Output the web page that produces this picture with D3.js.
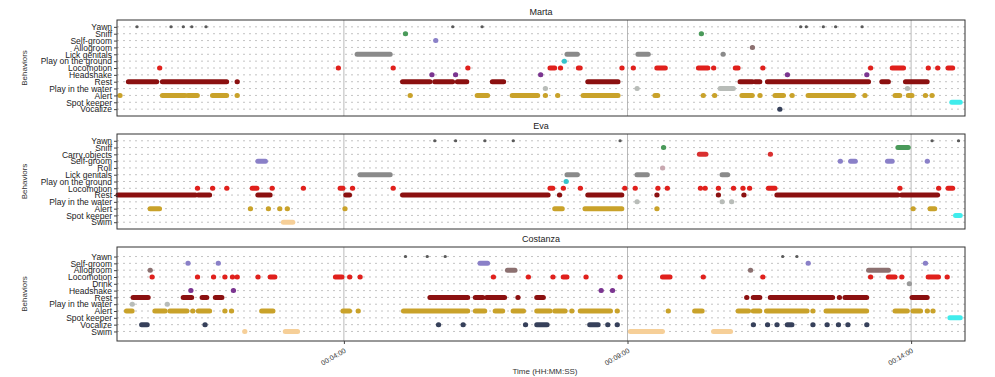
<!DOCTYPE html>
<html><head><meta charset="utf-8">
<script src="https://cdn.jsdelivr.net/npm/d3@7"></script>
<style>
body{margin:0;background:#fff;}
svg{display:block;font-family:"Liberation Sans",Arial,sans-serif;}
</style>
</head><body>
<svg id="c" width="995" height="377"></svg>
<script>
// ---------- DATA ----------
const timeDomain = [0, 897]; // seconds
const tickValues = [240, 540, 840];
const tickLabels = ["00:04:00", "00:09:00", "00:14:00"];
const xAxisTitle = "Time (HH:MM:SS)";
const yAxisTitle = "Behaviors";
const panelNames = ["Marta", "Eva", "Costanza"];

const martaBehaviors = ["Yawn","Sniff","Self-groom","Allogroom","Lick genitals","Play on the ground","Locomotion","Headshake","Rest","Play in the water","Alert","Spot keeper","Vocalize"];
const evaBehaviors = ["Yawn","Sniff","Carry objects","Self-groom","Roll","Lick genitals","Play on the ground","Locomotion","Rest","Play in the water","Alert","Spot keeper","Swim"];
const costanzaBehaviors = ["Yawn","Self-groom","Allogroom","Locomotion","Drink","Headshake","Rest","Play in the water","Alert","Spot keeper","Vocalize","Swim"];

// [behavior, start (s), end (s)]
const martaEvents = [
  ["Yawn",21,21],["Yawn",57,57],["Yawn",70,70],["Yawn",79,79],["Yawn",94,94],["Yawn",355,355],["Yawn",386,386],["Yawn",723,723],["Yawn",729,729],["Yawn",747,747],["Yawn",760,760],["Yawn",788,788],
  ["Sniff",305,305],["Sniff",618,618],
  ["Self-groom",337,337],
  ["Allogroom",672,672],
  ["Lick genitals",254,289],["Lick genitals",476,487],["Lick genitals",551,562],["Lick genitals",641,641],
  ["Play on the ground",473,473],
  ["Locomotion",45,45],["Locomotion",234,234],["Locomotion",292,292],["Locomotion",371,371],["Locomotion",458,463],["Locomotion",469,469],["Locomotion",488,490],["Locomotion",534,534],["Locomotion",546,546],["Locomotion",571,580],["Locomotion",615,625],["Locomotion",631,631],["Locomotion",654,657],["Locomotion",683,683],["Locomotion",797,797],["Locomotion",820,832],["Locomotion",858,858],["Locomotion",868,868],["Locomotion",879,884],
  ["Headshake",333,333],["Headshake",358,358],["Headshake",448,448],["Headshake",709,709],["Headshake",793,793],
  ["Rest",12,42],["Rest",48,116],["Rest",127,127],["Rest",302,331],["Rest",336,355],["Rest",360,370],["Rest",397,409],["Rest",498,530],["Rest",659,672],["Rest",675,680],["Rest",688,795],["Rest",809,816],["Rest",834,857],
  ["Play in the water",453,453],["Play in the water",550,550],["Play in the water",638,652],["Play in the water",836,836],
  ["Alert",3,3],["Alert",48,72],["Alert",75,85],["Alert",101,116],["Alert",127,127],["Alert",310,310],["Alert",381,392],["Alert",418,445],["Alert",453,453],["Alert",466,466],["Alert",493,530],["Alert",569,572],["Alert",620,620],["Alert",632,632],["Alert",661,672],["Alert",680,680],["Alert",696,705],["Alert",714,714],["Alert",731,779],["Alert",791,791],["Alert",823,828],["Alert",837,841],["Alert",855,855],["Alert",862,862],
  ["Spot keeper",883,892],
  ["Vocalize",701,701]
];

const evaEvents = [
  ["Yawn",336,336],["Yawn",358,358],["Yawn",389,389],["Yawn",419,419],["Yawn",532,532],["Yawn",862,862],["Yawn",890,890],
  ["Sniff",578,578],["Sniff",826,837],
  ["Carry objects",616,623],["Carry objects",691,691],
  ["Self-groom",149,157],["Self-groom",765,765],["Self-groom",776,781],["Self-groom",815,820],["Self-groom",857,857],
  ["Roll",577,577],
  ["Lick genitals",257,289],["Lick genitals",476,487],["Lick genitals",550,561],["Lick genitals",640,646],
  ["Play on the ground",475,475],
  ["Locomotion",85,85],["Locomotion",101,101],["Locomotion",116,116],["Locomotion",143,148],["Locomotion",164,164],["Locomotion",197,197],["Locomotion",236,239],["Locomotion",249,249],["Locomotion",292,292],["Locomotion",458,461],["Locomotion",472,472],["Locomotion",490,490],["Locomotion",537,537],["Locomotion",548,548],["Locomotion",572,572],["Locomotion",582,582],["Locomotion",617,617],["Locomotion",622,622],["Locomotion",636,636],["Locomotion",652,652],["Locomotion",662,662],["Locomotion",669,669],["Locomotion",689,696],["Locomotion",828,828],["Locomotion",869,869],["Locomotion",879,884],
  ["Rest",1,83],["Rest",86,98],["Rest",149,162],["Rest",242,246],["Rest",302,456],["Rest",468,468],["Rest",498,534],["Rest",571,571],["Rest",636,636],["Rest",663,663],["Rest",698,826],["Rest",830,868],
  ["Play in the water",550,550],["Play in the water",640,640],["Play in the water",650,650],
  ["Alert",35,45],["Alert",141,141],["Alert",160,160],["Alert",172,172],["Alert",180,180],["Alert",241,241],["Alert",463,471],["Alert",495,534],["Alert",571,571],["Alert",842,842],["Alert",860,865],
  ["Spot keeper",887,892],
  ["Swim",176,186]
];

const costanzaEvents = [
  ["Yawn",305,305],["Yawn",328,328],["Yawn",347,347],["Yawn",704,704],["Yawn",719,719],
  ["Self-groom",75,75],["Self-groom",107,107],["Self-groom",384,392],["Self-groom",731,731],["Self-groom",855,855],
  ["Allogroom",35,35],["Allogroom",413,421],["Allogroom",670,670],["Allogroom",795,816],
  ["Locomotion",37,37],["Locomotion",85,85],["Locomotion",102,102],["Locomotion",114,114],["Locomotion",122,122],["Locomotion",127,127],["Locomotion",149,149],["Locomotion",162,167],["Locomotion",231,238],["Locomotion",246,246],["Locomotion",257,257],["Locomotion",398,398],["Locomotion",435,435],["Locomotion",461,461],["Locomotion",472,476],["Locomotion",496,496],["Locomotion",532,532],["Locomotion",577,585],["Locomotion",620,620],["Locomotion",683,683],["Locomotion",797,797],["Locomotion",816,823],["Locomotion",830,830],["Locomotion",858,869],["Locomotion",878,878],
  ["Drink",838,838],
  ["Headshake",78,78],["Headshake",123,123],["Headshake",512,512],["Headshake",524,524],
  ["Rest",17,33],["Rest",70,79],["Rest",90,95],["Rest",104,111],["Rest",331,371],["Rest",379,387],["Rest",391,410],["Rest",424,424],["Rest",444,451],["Rest",666,666],["Rest",673,680],["Rest",691,757],["Rest",764,764],["Rest",770,793],["Rest",841,857],
  ["Play in the water",16,16],["Play in the water",53,53],
  ["Alert",10,16],["Alert",40,51],["Alert",56,74],["Alert",80,80],["Alert",86,98],["Alert",114,114],["Alert",121,121],["Alert",153,165],["Alert",239,246],["Alert",255,255],["Alert",303,371],["Alert",379,389],["Alert",400,408],["Alert",419,430],["Alert",444,458],["Alert",463,474],["Alert",481,481],["Alert",490,522],["Alert",529,529],["Alert",583,583],["Alert",611,619],["Alert",657,668],["Alert",673,680],["Alert",687,730],["Alert",736,736],["Alert",750,793],["Alert",823,836],["Alert",842,850],["Alert",857,857],["Alert",863,863],
  ["Spot keeper",881,892],
  ["Vocalize",26,32],["Vocalize",93,93],["Vocalize",340,340],["Vocalize",366,366],["Vocalize",432,432],["Vocalize",444,455],["Vocalize",500,509],["Vocalize",519,519],["Vocalize",529,529],["Vocalize",673,673],["Vocalize",688,688],["Vocalize",698,698],["Vocalize",709,714],["Vocalize",736,736],["Vocalize",751,751],["Vocalize",763,763],["Vocalize",773,773],["Vocalize",793,793],
  ["Swim",135,135],["Swim",178,191],["Swim",543,577],["Swim",631,649]
];

// ---------- STYLE ----------
const behaviorColors = {
  "Yawn":"#5a5a5a","Sniff":"#4a9a5a","Carry objects":"#d93030","Self-groom":"#8a80c8","Roll":"#c8a8b0",
  "Allogroom":"#8c7070","Lick genitals":"#8a8a8a","Play on the ground":"#35c4cc","Locomotion":"#e0201c",
  "Headshake":"#7b3590","Drink":"#999999","Rest":"#8b1010","Play in the water":"#b8bcb8","Alert":"#c9a22a",
  "Spot keeper":"#40ecec","Vocalize":"#36405a","Swim":"#f6cf98"
};

const panels = [
  {name: panelNames[0], cats: martaBehaviors, events: martaEvents, top: 20, bottom: 116, pad: 1.0},
  {name: panelNames[1], cats: evaBehaviors, events: evaEvents, top: 134, bottom: 229, pad: 1.0},
  {name: panelNames[2], cats: costanzaBehaviors, events: costanzaEvents, top: 247, bottom: 341, pad: 1.4}
];

const left = 117, right = 965;
const svg = d3.select("#c");
const x = d3.scaleLinear().domain(timeDomain).range([left, right]);

panels.forEach((p, pi) => {
  const y = d3.scalePoint().domain(p.cats).range([p.top, p.bottom]).padding(p.pad);
  const g = svg.append("g");

  // row dashed guide lines
  g.selectAll("line.row").data(p.cats).enter().append("line")
    .attr("x1", left).attr("x2", right)
    .attr("y1", d => y(d)).attr("y2", d => y(d))
    .attr("stroke", "#b4b4b4").attr("stroke-width", 0.8)
    .attr("stroke-dasharray", "2,4");

  // vertical grid at ticks
  g.selectAll("line.vg").data(tickValues).enter().append("line")
    .attr("x1", d => x(d)).attr("x2", d => x(d))
    .attr("y1", p.top).attr("y2", p.bottom)
    .attr("stroke", "#a8a8a8").attr("stroke-width", 0.8);

  // events
  g.selectAll("line.ev").data(p.events).enter().append("line")
    .attr("x1", d => x(d[1]))
    .attr("x2", d => x(Math.max(d[2], d[1] + 0.3)))
    .attr("y1", d => y(d[0])).attr("y2", d => y(d[0]))
    .attr("stroke", d => behaviorColors[d[0]])
    .attr("stroke-width", d => d[0] === "Yawn" ? 3 : 5)
    .attr("stroke-linecap", "round");

  // frame
  g.append("rect").attr("x", left).attr("y", p.top)
    .attr("width", right - left).attr("height", p.bottom - p.top)
    .attr("fill", "none").attr("stroke", "#333").attr("stroke-width", 1);

  // y axis
  const ya = g.append("g").attr("transform", `translate(${left},0)`)
    .call(d3.axisLeft(y).tickSize(3).tickPadding(2));
  ya.select(".domain").remove();
  ya.selectAll("text").attr("font-size", "8.5px").attr("fill", "#222")
    .style("font-family", '"Liberation Sans", Arial, sans-serif');
  ya.selectAll("line").attr("stroke", "#444");

  // y title
  g.append("text")
    .attr("transform", `translate(27,${(p.top + p.bottom) / 2}) rotate(-90)`)
    .attr("text-anchor", "middle").attr("font-size", "8px").attr("fill", "#333")
    .text(yAxisTitle);

  // panel title
  g.append("text").attr("x", (left + right) / 2).attr("y", p.top - 5)
    .attr("text-anchor", "middle").attr("font-size", "9px").attr("fill", "#222")
    .text(p.name);

  if (pi === panels.length - 1) {
    const xa = g.append("g").attr("transform", `translate(0,${p.bottom})`)
      .call(d3.axisBottom(x).tickValues(tickValues).tickFormat((d, i) => tickLabels[i]).tickSize(3));
    xa.select(".domain").remove();
    xa.selectAll("line").attr("stroke", "#444");
    xa.selectAll("text")
      .attr("font-size", "7px").attr("fill", "#333")
      .attr("text-anchor", "end")
      .attr("dy", "0.3em")
      .attr("transform", "translate(-2,4) rotate(-30)")
      .style("font-family", '"Liberation Sans", Arial, sans-serif');
    g.append("text").attr("x", 545).attr("y", 374)
      .attr("text-anchor", "middle").attr("font-size", "8px").attr("fill", "#333")
      .text(xAxisTitle);
  }
});
</script>
</body></html>
